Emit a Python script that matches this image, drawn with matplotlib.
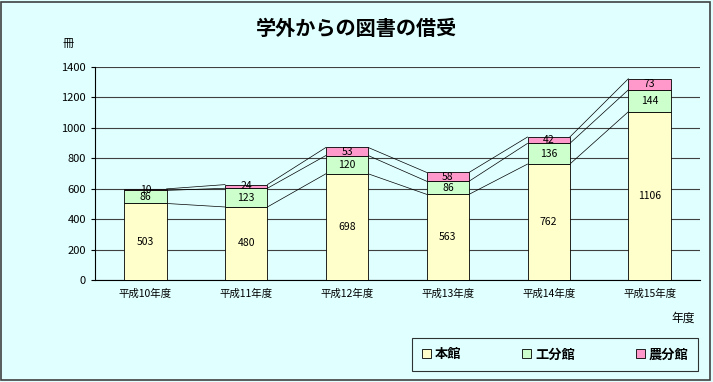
import matplotlib
matplotlib.use("Agg")
import matplotlib.pyplot as plt
from matplotlib.patches import Rectangle, Patch
import numpy as np

plt.rcParams['font.family'] = ['Noto Sans CJK JP', 'DejaVu Sans']

years = ['平成10年度', '平成11年度', '平成12年度', '平成13年度', '平成14年度', '平成15年度']
honkan = [503, 480, 698, 563, 762, 1106]
kobunkan = [86, 123, 120, 86, 136, 144]
nobunkan = [10, 24, 53, 58, 42, 73]
series_names = ['本館', '工分館', '農分館']
colors = ['#FFFFCC', '#CCFFCC', '#FF99CC']

bg = '#E0FFFF'
fig = plt.figure(figsize=(7.13, 3.82), dpi=100, facecolor=bg)
fig.patches.append(Rectangle((0.002, 0.004), 0.994, 0.99, transform=fig.transFigure,
                             fill=False, edgecolor='#404040', linewidth=1.2))

ax = fig.add_axes([0.1332, 0.267, 0.8485, 0.5576], facecolor=bg)

x = np.arange(len(years))
w = 0.42
data = [honkan, kobunkan, nobunkan]
bottom = np.zeros(len(years))
for vals, col, name in zip(data, colors, series_names):
    vals = np.array(vals)
    ax.bar(x, vals, w, bottom=bottom, color=col, edgecolor='black', linewidth=0.6,
           label=name, zorder=3)
    for xi, b, v in zip(x, bottom, vals):
        ax.text(xi, b + v / 2, str(v), ha='center', va='center', fontsize=7.5, zorder=4)
    top = bottom + vals
    # series lines between bars
    for i in range(len(years) - 1):
        ax.plot([x[i] + w / 2, x[i + 1] - w / 2], [top[i], top[i + 1]],
                color='black', linewidth=0.5, zorder=2)
    bottom = top

ax.set_xlim(-0.5, len(years) - 0.5)
ax.set_ylim(0, 1400)
ax.set_yticks(range(0, 1401, 200))
ax.yaxis.grid(True, color='#404040', linewidth=0.8, zorder=0)
ax.set_xticks(x)
ax.set_xticklabels(years, fontsize=7.5)
ax.tick_params(axis='y', labelsize=8, length=3)
ax.tick_params(axis='x', length=0, pad=6)
for s in ['top', 'right']:
    ax.spines[s].set_visible(False)
ax.spines['left'].set_color('black')
ax.spines['bottom'].set_color('black')

fig.text(0.5, 0.925, '学外からの図書の借受', ha='center', va='center',
         fontsize=14.5, fontweight='bold')
fig.text(0.087, 0.885, '冊', ha='left', va='center', fontsize=8)
fig.text(0.958, 0.168, '年度', ha='center', va='center', fontsize=8.5)

handles = [Patch(facecolor=c, edgecolor='black', linewidth=0.6) for c in colors]
leg = fig.legend(handles, series_names, loc='center', bbox_to_anchor=(0.7785, 0.072),
                 ncol=3, fontsize=9.5, frameon=True, fancybox=False, edgecolor='black',
                 facecolor=bg, handlelength=0.7, handleheight=0.7, handletextpad=0.3,
                 columnspacing=4.6, borderpad=0.7)
leg.get_frame().set_linewidth(0.8)
for t in leg.get_texts():
    t.set_fontweight('bold')

fig.savefig('out.png', dpi=100, facecolor=bg)
